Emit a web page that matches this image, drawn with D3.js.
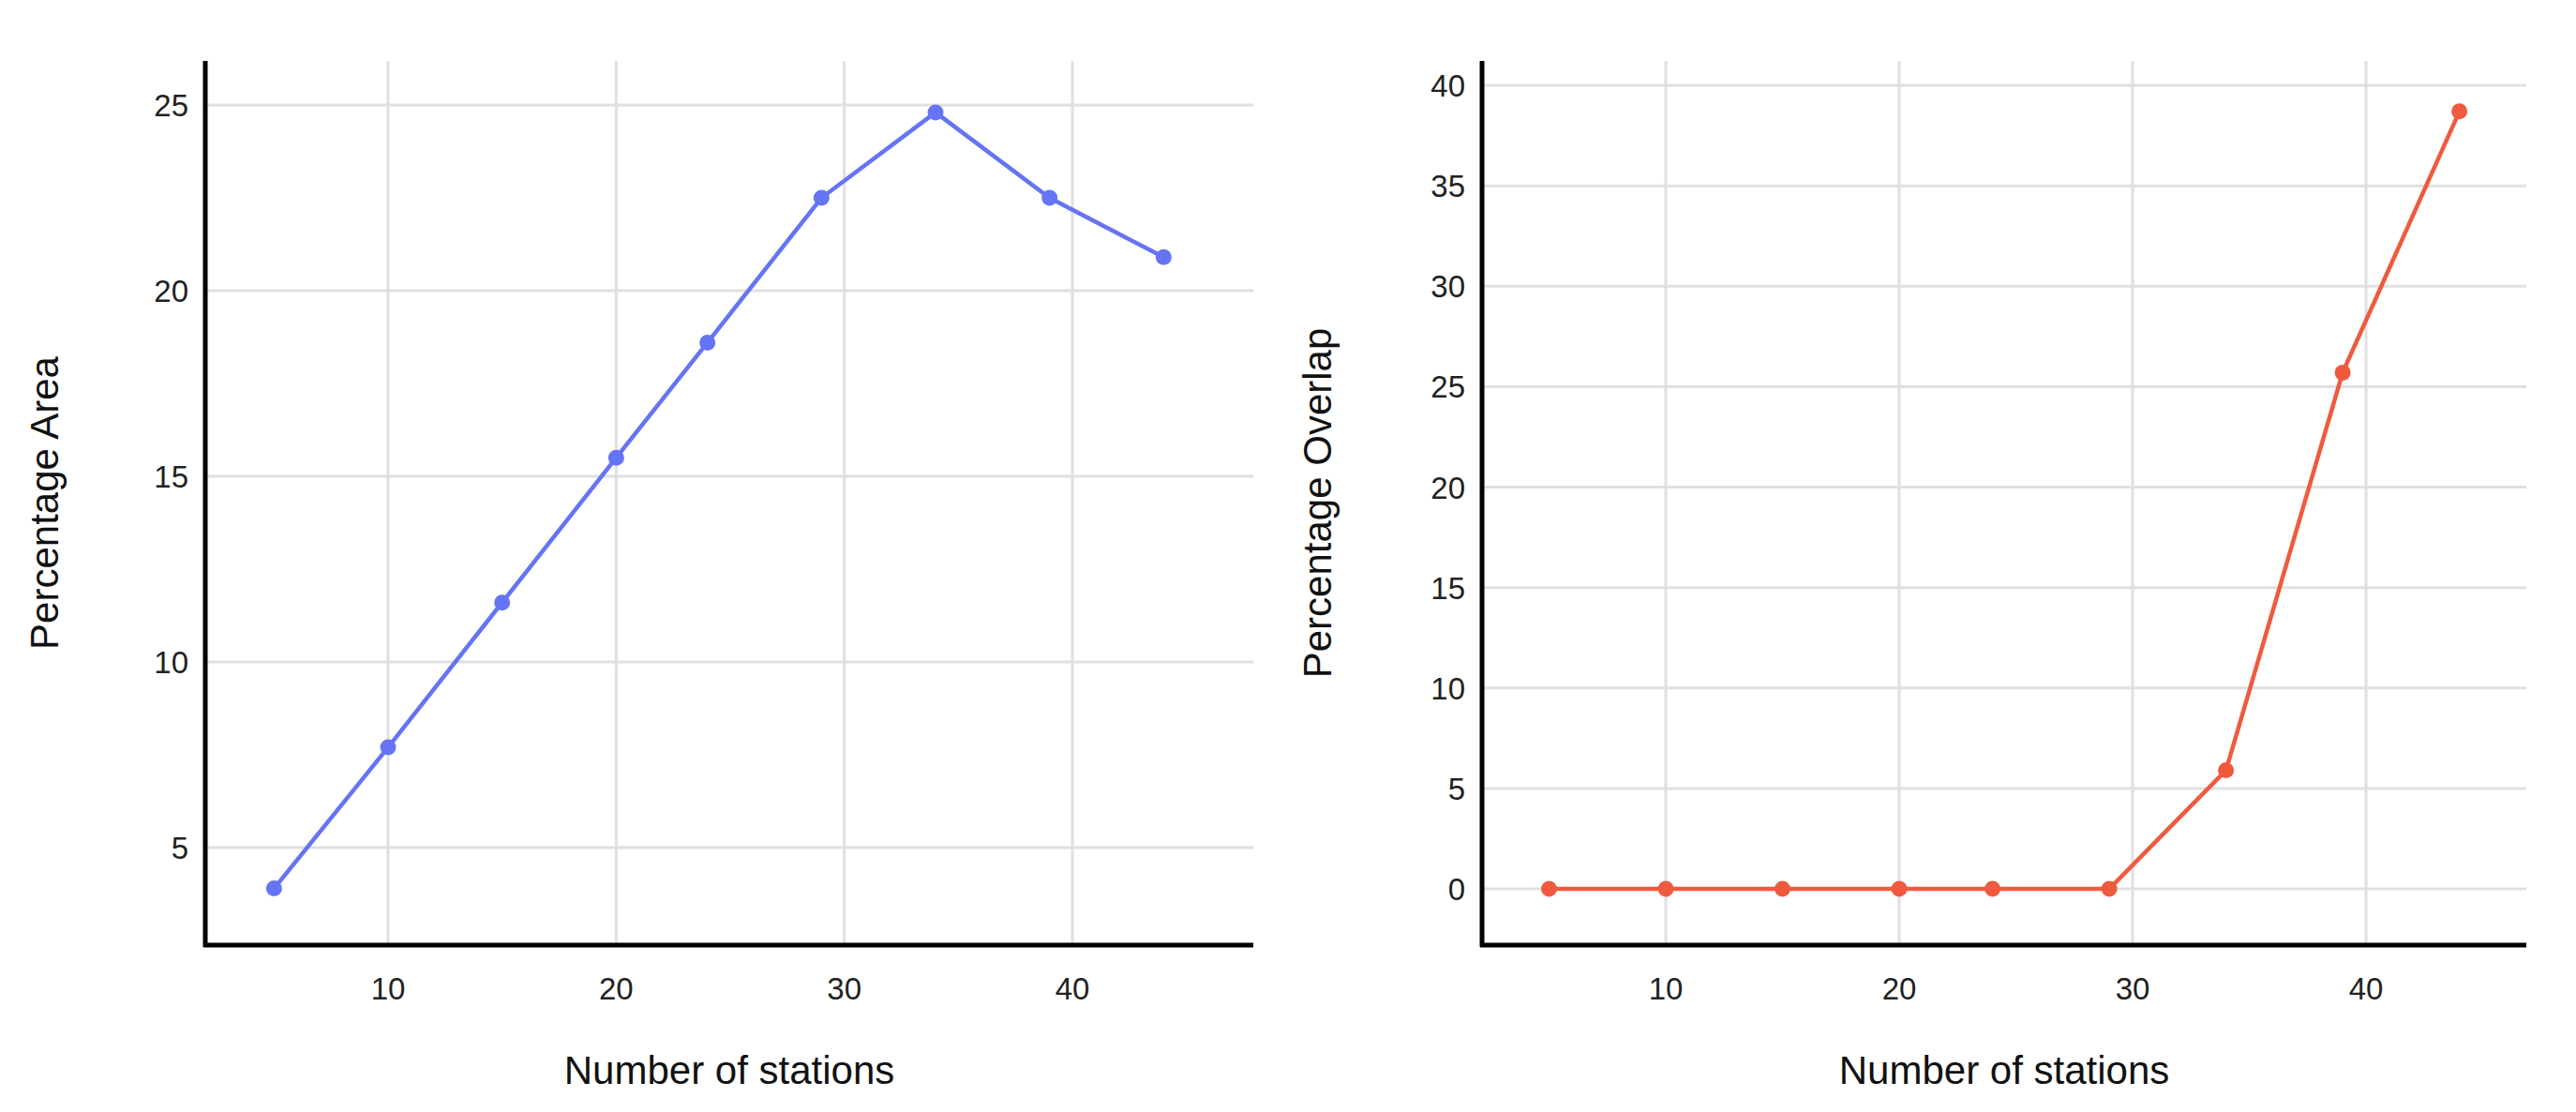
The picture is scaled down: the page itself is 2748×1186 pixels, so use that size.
<!DOCTYPE html>
<html><head><meta charset="utf-8">
<script src="https://cdn.jsdelivr.net/npm/d3@7"></script>
<style>body{margin:0;background:#fff}text{font-family:"Liberation Sans",Arial,sans-serif}</style>
</head><body><svg width="2748" height="1186"></svg>
<script>
// data
const stations = [5, 10, 15, 20, 24, 29, 34, 39, 44];
const areaPct = [3.9, 7.7, 11.6, 15.5, 18.6, 22.5, 24.8, 22.5, 20.9];
const overlapPct = [0, 0, 0, 0, 0, 0, 5.9, 25.7, 38.7];
const xTicks = [10, 20, 30, 40];
const areaTicks = [5, 10, 15, 20, 25];
const overlapTicks = [0, 5, 10, 15, 20, 25, 30, 35, 40];

const svg = d3.select('svg');

function panel(o) {
    const x = d3.scaleLinear().domain([10, 40]).range(o.xr);
    const y = d3.scaleLinear().domain(o.yd).range(o.yr);
    const g = svg.append('g');

    // grid
    g.selectAll('.vg').data(xTicks).enter().append('line')
        .attr('x1', d => x(d)).attr('x2', d => x(d))
        .attr('y1', o.top).attr('y2', o.bottom)
        .attr('stroke', '#e0e0e0').attr('stroke-width', 3);
    g.selectAll('.hg').data(o.yTicks).enter().append('line')
        .attr('x1', o.left).attr('x2', o.right)
        .attr('y1', d => y(d)).attr('y2', d => y(d))
        .attr('stroke', '#e0e0e0').attr('stroke-width', 3);

    // axes
    g.append('line').attr('x1', o.left).attr('x2', o.left).attr('y1', o.top).attr('y2', o.bottom + 2)
        .attr('stroke', '#000').attr('stroke-width', 5);
    g.append('line').attr('x1', o.left - 2).attr('x2', o.right).attr('y1', o.bottom).attr('y2', o.bottom)
        .attr('stroke', '#000').attr('stroke-width', 5);

    g.selectAll('.xt').data(xTicks).enter().append('text')
        .attr('x', d => x(d)).attr('y', o.bottom + 58)
        .attr('text-anchor', 'middle').attr('font-size', 33).attr('fill', '#222')
        .text(d => d);
    g.selectAll('.yt').data(o.yTicks).enter().append('text')
        .attr('x', o.left - 18).attr('y', d => y(d) + 12)
        .attr('text-anchor', 'end').attr('font-size', 33).attr('fill', '#222')
        .text(d => d);

    g.append('text').attr('x', (o.left + o.right) / 2).attr('y', 1156)
        .attr('text-anchor', 'middle').attr('font-size', 42).attr('fill', '#111')
        .text('Number of stations');
    g.append('text').attr('transform', `translate(${o.labelX},${(o.top + o.bottom) / 2}) rotate(-90)`)
        .attr('text-anchor', 'middle').attr('font-size', 42).attr('fill', '#111')
        .text(o.label);

    const pts = stations.map((s, i) => [s, o.values[i]]);
    g.append('path').datum(pts)
        .attr('d', d3.line().x(d => x(d[0])).y(d => y(d[1])))
        .attr('fill', 'none').attr('stroke', o.color).attr('stroke-width', 4.5);
    g.selectAll('circle').data(pts).enter().append('circle')
        .attr('cx', d => x(d[0])).attr('cy', d => y(d[1])).attr('r', 8.5)
        .attr('fill', o.color);
}

panel({xr: [414, 1144], yd: [5, 25], yr: [904, 112], left: 219, right: 1337, top: 65, bottom: 1008,
    yTicks: areaTicks, values: areaPct, color: '#6574f4', label: 'Percentage Area', labelX: 62});
panel({xr: [1777, 2524], yd: [0, 40], yr: [948, 91], left: 1581, right: 2695, top: 65, bottom: 1008,
    yTicks: overlapTicks, values: overlapPct, color: '#ef5a3f', label: 'Percentage Overlap', labelX: 1420});
</script></body></html>
